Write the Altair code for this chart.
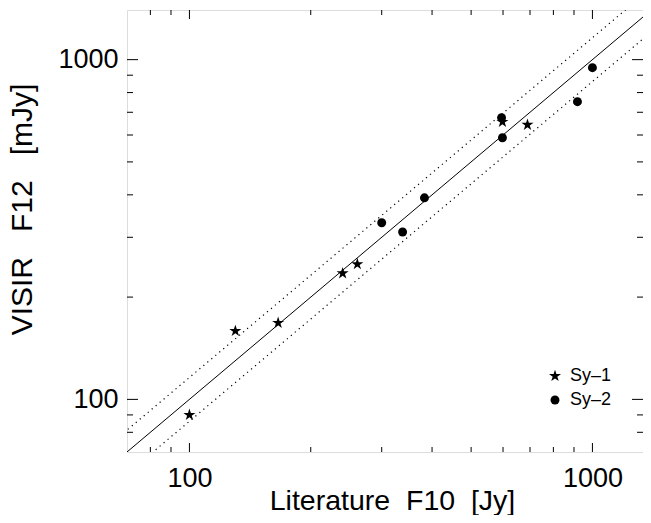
import altair as alt
import pandas as pd

# ---- data ----
sy1_x = [100, 130, 166, 240, 261, 598, 690]
sy1_y = [90, 159, 168, 235, 250, 656, 643]
sy2_x = [300, 338, 383, 595, 598, 918, 1000]
sy2_y = [331, 311, 392, 675, 589, 752, 947]

series_names = ["Sy\u20131", "Sy\u20132"]

# reference lines: y = f * x
line_x = [60, 1600]
line_factors = [1.0, 1.16, 1 / 1.16]
line_styles = ["solid", "dotted", "dotted"]

major_ticks = [100, 1000]
minor_ticks = [80, 90, 200, 300, 400, 500, 600, 700, 800, 900]

x_domain = [70, 1335]
y_domain = [70, 1400]

W, H = 516, 442
FONT = "Liberation Sans"

STAR = ("M0,-1L0.2245,-0.309L0.9511,-0.309L0.3633,0.118L0.5878,0.809"
        "L0,0.382L-0.5878,0.809L-0.3633,0.118L-0.9511,-0.309L-0.2245,-0.309Z")

pts = pd.DataFrame({
    "x": sy1_x + sy2_x,
    "y": sy1_y + sy2_y,
    "type": [series_names[0]] * len(sy1_x) + [series_names[1]] * len(sy2_x),
})

lines_rows = []
for i, (f, st) in enumerate(zip(line_factors, line_styles)):
    for xv in line_x:
        lines_rows.append({"x": xv, "y": xv * f, "line": f"l{i}", "style": st})
lines = pd.DataFrame(lines_rows)

xs = alt.Scale(type="log", domain=x_domain, nice=False, zero=False)
ys = alt.Scale(type="log", domain=y_domain, nice=False, zero=False)

x_axis = alt.Axis(values=major_ticks, format="d", ticks=False, domain=False, grid=False,
                  labelFontSize=27, labelFont=FONT, labelColor="black", labelPadding=13,
                  labelFlush=False, labelOverlap=False,
                  title="Literature\u00a0 F10\u00a0 [Jy]", titleFontSize=28.5, titleFont=FONT,
                  titleFontWeight="normal", titleColor="black",
                  titleBaseline="alphabetic", titleY=57.5, titleX=265)
y_axis = alt.Axis(values=major_ticks, format="d", ticks=False, domain=False, grid=False,
                  labelFontSize=27, labelFont=FONT, labelColor="black", labelPadding=9,
                  labelFlush=False, labelOverlap=False,
                  title="VISIR\u00a0\u00a0 F12\u00a0\u00a0 [mJy]", titleFontSize=30, titleFont=FONT,
                  titleFontWeight="normal", titleColor="black", titlePadding=20, titleY=199)

solid = alt.Chart(lines[lines["style"] == "solid"]).mark_line(
    color="black", strokeWidth=1, clip=True
).encode(
    x=alt.X("x:Q", scale=xs, axis=x_axis),
    y=alt.Y("y:Q", scale=ys, axis=y_axis),
    detail="line:N",
)
dotted = alt.Chart(lines[lines["style"] == "dotted"]).mark_line(
    color="black", strokeWidth=1.2, strokeDash=[1.2, 4], clip=True
).encode(
    x=alt.X("x:Q", scale=xs, axis=x_axis),
    y=alt.Y("y:Q", scale=ys, axis=y_axis),
    detail="line:N",
)

leg = alt.Legend(title=None, orient="none", legendX=419, legendY=357,
                 labelFontSize=18, labelFont=FONT, labelColor="black",
                 labelOffset=6, rowPadding=6, padding=0,
                 symbolFillColor="black", symbolStrokeWidth=0)

points = alt.Chart(pts).mark_point(filled=True, color="black", opacity=1, strokeWidth=0).encode(
    x=alt.X("x:Q", scale=xs, axis=x_axis),
    y=alt.Y("y:Q", scale=ys, axis=y_axis),
    shape=alt.Shape("type:N", scale=alt.Scale(domain=series_names, range=[STAR, "circle"]),
                    legend=leg),
    size=alt.Size("type:N", scale=alt.Scale(domain=series_names, range=[160, 80]),
                  legend=leg),
)

ticks_major = pd.DataFrame({"v": major_ticks})
ticks_minor = pd.DataFrame({"v": minor_ticks})


def xtick(df, y0, y1):
    return alt.Chart(df).mark_rule(color="black", strokeWidth=1).encode(
        x=alt.X("v:Q", scale=xs, axis=x_axis), y=alt.value(y0), y2=alt.value(y1))


def ytick(df, x0, x1):
    return alt.Chart(df).mark_rule(color="black", strokeWidth=1).encode(
        y=alt.Y("v:Q", scale=ys, axis=y_axis), x=alt.value(x0), x2=alt.value(x1))


tick_layers = [
    xtick(ticks_major, H, H - 9), xtick(ticks_minor, H, H - 5),
    xtick(ticks_major, 0, 9), xtick(ticks_minor, 0, 5),
    ytick(ticks_major, 0, 11), ytick(ticks_minor, 0, 6),
    ytick(ticks_major, W, W - 11), ytick(ticks_minor, W, W - 6),
]

chart = alt.layer(solid, dotted, *tick_layers, points).properties(
    width=W, height=H,
    padding={"left": 119, "top": 2, "right": 0, "bottom": 63},
    autosize=alt.AutoSizeParams(type="none"),
).configure_view(stroke="black", strokeWidth=1.2).configure(background="white")

chart.save("out.html", embed_options={"renderer": "svg", "actions": False})
